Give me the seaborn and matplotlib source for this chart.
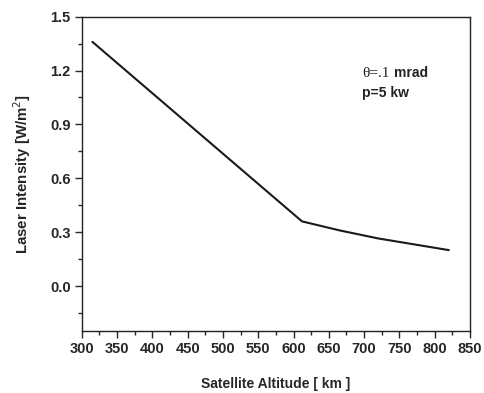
import matplotlib
matplotlib.use("Agg")
import matplotlib.pyplot as plt
from matplotlib.ticker import MultipleLocator
import seaborn as sns
import pandas as pd

altitude_km = [315, 612, 665, 720, 820]
intensity = [1.36, 0.36, 0.31, 0.265, 0.20]

x_ticks = [300, 350, 400, 450, 500, 550, 600, 650, 700, 750, 800, 850]
y_ticks = [0.0, 0.3, 0.6, 0.9, 1.2, 1.5]

sns.set_style("ticks")
plt.rcParams['font.family'] = ['Liberation Sans', 'DejaVu Sans']

df = pd.DataFrame({'altitude': altitude_km, 'intensity': intensity})

fig = plt.figure(figsize=(4.84, 3.93), dpi=100)
ax = fig.add_axes([0.169, 0.158, 0.802, 0.7995])
sns.lineplot(x='altitude', y='intensity', data=df, color='#1a1a1a', linewidth=1.5, ax=ax)

ax.set_xlim(300, 850)
ax.set_ylim(-0.25, 1.5)
ax.set_xticks(x_ticks)
ax.set_yticks(y_ticks)
ax.set_yticklabels([f'{v:.1f}' for v in y_ticks])
ax.xaxis.set_minor_locator(MultipleLocator(25))
ax.yaxis.set_minor_locator(MultipleLocator(0.15))
ax.tick_params(which='major', direction='out', length=5, width=1, labelsize=10.5, pad=3)
ax.tick_params(which='minor', direction='out', length=3, width=1)
for lab in ax.get_xticklabels() + ax.get_yticklabels():
    lab.set_fontweight('bold')
for sp in ax.spines.values():
    sp.set_visible(True)
    sp.set_linewidth(1.0)
    sp.set_color('#222222')

ax.set_xlabel('Satellite Altitude [ km ]', fontsize=10, fontweight='bold', labelpad=15)
ax.set_ylabel('Laser Intensity [W/m$^2$]', fontsize=10.8, fontweight='bold', labelpad=12)

ax.text(697, 1.185, 'θ=.1', family=['Liberation Serif', 'DejaVu Serif'], fontsize=11,
        va='center', ha='left', color='#222222')
ax.text(742, 1.185, 'mrad', fontsize=10, fontweight='bold', va='center', ha='left', color='#222222')
ax.text(697, 1.075, 'p=5 kw', fontsize=10, fontweight='bold', va='center', ha='left', color='#222222')

fig.savefig('out.png', dpi=100)
